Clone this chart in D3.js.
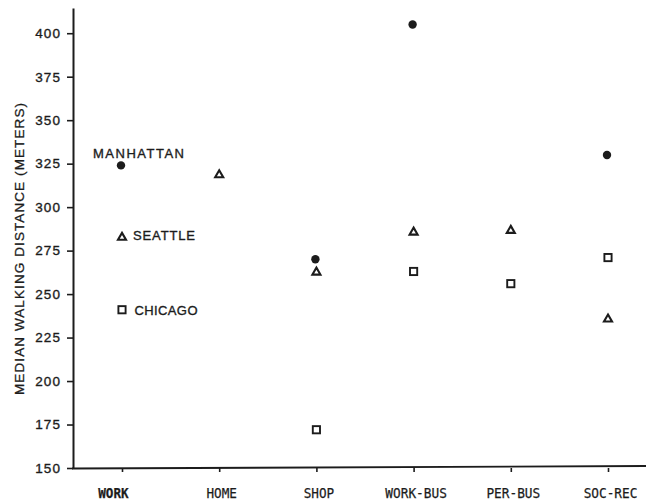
<!DOCTYPE html>
<html><head><meta charset="utf-8">
<script src="https://cdn.jsdelivr.net/npm/d3@7"></script>
<style>
html,body{margin:0;padding:0;background:#fff;}
svg{display:block;}
</style></head>
<body>
<svg id="chart" width="654" height="503"></svg>
<script>
const categories = ["WORK","HOME","SHOP","WORK-BUS","PER-BUS","SOC-REC"];
const manhattan = [324, null, 270, 405, null, 330];
const seattle   = [283, 319, 263, 286, 287, 236];
const chicago   = [241, null, 172, 263, 256, 271];
const yTicks = [150,175,200,225,250,275,300,325,350,375,400];
const yTitle = "MEDIAN WALKING DISTANCE (METERS)";
const legendNames = ["MANHATTAN","SEATTLE","CHICAGO"];

const ink = "#1c1c1c";
const svg = d3.select("#chart");
const x = d3.scalePoint().domain(categories).range([122, 608]);
const y = d3.scaleLinear().domain([150, 414.5]).range([468, 8]);

function heavy(sel, w){ return sel.attr("stroke", ink).attr("stroke-width", w).attr("paint-order","stroke"); }

// Y axis
const yAxis = svg.append("g").attr("transform","translate(73,0)")
  .call(d3.axisLeft(y).tickValues(yTicks).tickSize(6).tickSizeOuter(0).tickPadding(6));
yAxis.select(".domain").attr("stroke", ink).attr("stroke-width", 2);
yAxis.selectAll(".tick line").attr("stroke", ink).attr("stroke-width", 1.6);
heavy(yAxis.selectAll(".tick text").attr("fill", ink)
  .style("font-family","'Liberation Sans', Arial, sans-serif").style("font-size","13.5px")
  .style("letter-spacing","1.1px").attr("x",-12), 0.35);

// X axis
const xAxis = svg.append("g").attr("transform","translate(0,468)")
  .call(d3.axisBottom(x).tickSize(4).tickSizeOuter(0));
xAxis.select(".domain").remove();
xAxis.append("line").attr("x1",72).attr("x2",646).attr("y1",0.5).attr("y2",-2)
  .attr("stroke", ink).attr("stroke-width", 1.9);
xAxis.selectAll(".tick line").attr("stroke", ink).attr("stroke-width", 1.6);
heavy(xAxis.selectAll(".tick text").attr("fill", ink)
  .style("font-family","'DejaVu Sans Mono', monospace").style("font-size","14.5px")
  .attr("y", 30).attr("dy", 0)
  .attr("dx", (d,i) => i === 0 ? -9 : 2)
  .attr("textLength", d => d.length * 7.75 - 0.5)
  .attr("lengthAdjust","spacingAndGlyphs")
  .style("font-weight", (d,i) => i === 0 ? "bold" : "normal"), 0.25);

// Y title
heavy(svg.append("text")
  .attr("transform","translate(24,249) rotate(-90)")
  .attr("text-anchor","middle")
  .attr("fill", ink)
  .style("font-family","'Liberation Sans', Arial, sans-serif").style("font-size","13.5px")
  .attr("textLength", 292).attr("lengthAdjust","spacing")
  .text(yTitle), 0.3);

// Markers
const tri = d3.symbol().type(d3.symbolTriangle).size(28);
function pts(arr){ return arr.map((v,i)=>({c:categories[i], v})).filter(d=>d.v!=null); }

svg.append("g").selectAll("circle").data(pts(manhattan)).join("circle")
  .attr("cx", d=>x(d.c)-1).attr("cy", d=>y(d.v)).attr("r", 4.2).attr("fill", ink);

svg.append("g").selectAll("path").data(pts(seattle)).join("path")
  .attr("d", tri)
  .attr("transform", d=>`translate(${x(d.c)},${y(d.v)+0.8})`)
  .attr("fill","none").attr("stroke", ink).attr("stroke-width", 2.1).attr("stroke-linejoin","miter");

svg.append("g").selectAll("rect").data(pts(chicago)).join("rect")
  .attr("x", d=>x(d.c)-3.6).attr("y", d=>y(d.v)-3.6).attr("width", 7.2).attr("height", 7.2)
  .attr("fill","none").attr("stroke", ink).attr("stroke-width", 1.9);

// Direct labels (legend)
const lab = svg.append("g").attr("fill", ink)
  .style("font-family","'Liberation Sans', Arial, sans-serif").style("font-size","13px");
lab.append("text").attr("x", 93).attr("y", 157.5).attr("textLength", 91).attr("lengthAdjust","spacing").text(legendNames[0]);
lab.append("text").attr("x", 133).attr("y", 240).attr("textLength", 62).attr("lengthAdjust","spacing").text(legendNames[1]);
lab.append("text").attr("x", 134.5).attr("y", 315).attr("textLength", 63).attr("lengthAdjust","spacing").text(legendNames[2]);
heavy(lab.selectAll("text"), 0.35);
</script>
</body></html>
